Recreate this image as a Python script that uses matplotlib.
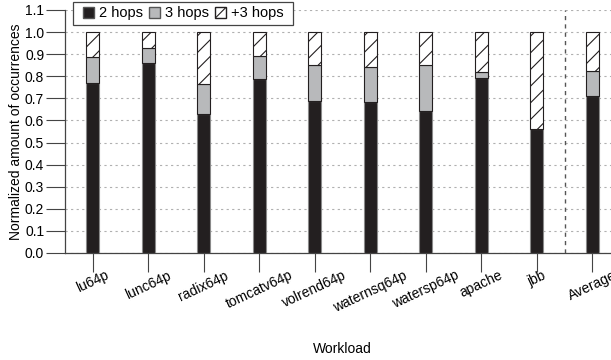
import matplotlib.pyplot as plt
from matplotlib.patches import Patch, Rectangle

plt.rcParams['font.family'] = ['Liberation Sans', 'DejaVu Sans']
plt.rcParams['hatch.linewidth'] = 0.8

workloads = ['lu64p', 'lunc64p', 'radix64p', 'tomcatv64p', 'volrend64p',
             'waternsq64p', 'watersp64p', 'apache', 'jbb', 'Average']
hops2 = [0.771, 0.859, 0.631, 0.789, 0.687, 0.682, 0.643, 0.791, 0.560, 0.712]
hops3 = [0.115, 0.070, 0.133, 0.101, 0.163, 0.161, 0.207, 0.028, 0.000, 0.110]
hops_more = [1 - a - b for a, b in zip(hops2, hops3)]

fig = plt.figure(figsize=(6.11, 3.6), dpi=100)
ax = fig.add_axes([65 / 611, 1 - 253 / 360, 555 / 611, 243 / 360])

x = list(range(len(workloads)))
w = 0.235
edge = '#8a8a8a'
ax.bar(x, hops2, w, color='#231f20', edgecolor=edge, linewidth=0.8, zorder=3)
ax.bar(x, hops3, w, bottom=hops2, color='#b8b9bb', edgecolor='#231f20',
       linewidth=0.8, zorder=3)
bottoms = [a + b for a, b in zip(hops2, hops3)]
ax.bar(x, hops_more, w, bottom=bottoms, color='white', edgecolor='#231f20',
       hatch='//', linewidth=0.8, zorder=3)

ax.set_xlim(-0.5, 9.5)
ax.set_ylim(0, 1.1)
ax.set_yticks([i / 10 for i in range(12)])
ax.set_yticklabels([f'{i / 10:.1f}' for i in range(12)], fontsize=10)
ax.set_xticks(x)
ax.set_xticklabels(workloads, rotation=25, ha='center', fontsize=10)
ax.tick_params(axis='both', direction='out', length=14, width=0.8,
               color='#444444')
ax.tick_params(axis='x', pad=-3)
ax.tick_params(axis='y', pad=1)

ax.yaxis.grid(True, linestyle=(0, (2, 3)), color='#b0b0b0', linewidth=0.8, zorder=0)
ax.axvline(8.5, color='#555555', linestyle=(0, (3, 3)), linewidth=1, zorder=2)

for s in ['top', 'right']:
    ax.spines[s].set_visible(False)
for s in ['left', 'bottom']:
    ax.spines[s].set_color('#444444')
    ax.spines[s].set_linewidth(0.9)

ax.set_ylabel('Normalized amount of occurrences', fontsize=10)
ax.yaxis.set_label_coords(-0.0757, 0.5)
ax.set_xlabel('Workload', fontsize=10, labelpad=20)

# legend box drawn separately so the padding can be wider than tall
box = Rectangle((8 / 555, 1 + (10 - 25) / 243), 220 / 555, 23 / 243,
                transform=ax.transAxes, facecolor='white', edgecolor='#444444',
                linewidth=0.9, clip_on=False, zorder=5)
ax.add_patch(box)
handles = [Patch(facecolor='#231f20', edgecolor='#555555', label='2 hops'),
           Patch(facecolor='#b8b9bb', edgecolor='#555555', label='3 hops'),
           Patch(facecolor='white', edgecolor='#231f20', hatch='//', label='+3 hops')]
leg = ax.legend(handles=handles, ncol=3, loc='center',
                bbox_to_anchor=((8 + 110) / 555, 1 + (10 - 13.5) / 243),
                fontsize=10.5, frameon=False, handlelength=0.8, handleheight=0.8,
                handletextpad=0.3, columnspacing=0.4, borderpad=0,
                borderaxespad=0)
leg.set_zorder(6)

fig.savefig('out.png', dpi=100)
